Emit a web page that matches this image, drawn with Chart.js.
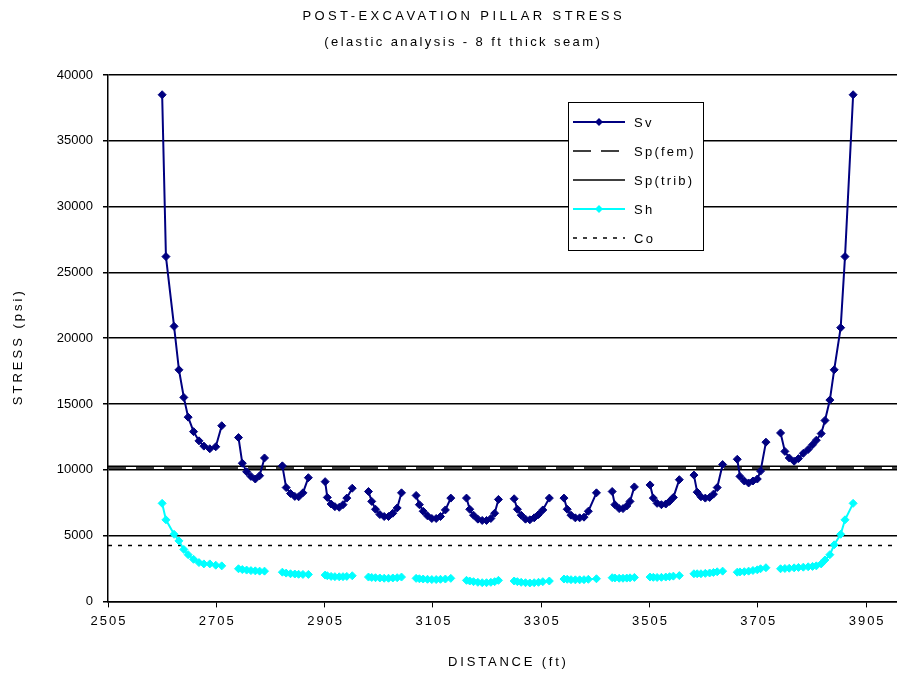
<!DOCTYPE html>
<html>
<head>
<meta charset="utf-8">
<script src="https://cdn.jsdelivr.net/npm/chart.js@4.4.1/dist/chart.umd.min.js"></script>
<style>
  html, body { margin: 0; padding: 0; background: #fff; overflow: hidden; }
  #wrap { width: 897px; height: 677px; }
</style>
</head>
<body>
<div id="wrap"><canvas id="chart"></canvas></div>
<script>
// tick labels and axis range
const xTicks = [2505, 2705, 2905, 3105, 3305, 3505, 3705, 3905];
const xMin = 2505;
const xMax = 3962;
const yMax = 40000;
const yStep = 5000;

// constant stress levels (psi)
const spFem = 10130;
const spTrib = 10270;
const co = 4250;

// distance (ft) of each calculation point, one list per pillar
const distance = [
  [2605, 2612, 2627, 2636, 2645, 2653, 2663, 2673, 2682, 2693, 2704, 2715],
  [2746, 2753, 2761, 2769, 2777, 2785, 2794],
  [2827, 2834, 2842, 2850, 2857, 2865, 2875],
  [2906, 2910, 2917, 2924, 2932, 2939, 2946, 2956],
  [2986, 2992, 2999, 3007, 3015, 3023, 3031, 3039, 3047],
  [3074, 3080, 3087, 3095, 3103, 3111, 3119, 3128, 3138],
  [3167, 3173, 3180, 3188, 3196, 3204, 3212, 3219, 3226],
  [3255, 3261, 3268, 3276, 3284, 3292, 3300, 3308, 3320],
  [3347, 3353, 3360, 3368, 3376, 3384, 3392, 3407],
  [3436, 3441, 3449, 3456, 3463, 3469, 3477],
  [3506, 3512, 3519, 3527, 3535, 3542, 3549, 3560],
  [3587, 3593, 3600, 3608, 3616, 3623, 3630, 3640],
  [3667, 3672, 3680, 3688, 3696, 3704, 3710, 3720],
  [3747, 3755, 3763, 3772, 3780, 3789, 3798, 3806, 3813, 3822, 3829, 3838, 3846, 3858, 3866, 3881]
];

// vertical stress Sv (psi)
const sv = [
  [38500, 26200, 20900, 17600, 15500, 14000, 12900, 12200, 11800, 11600, 11750, 13350],
  [12450, 10500, 9850, 9500, 9300, 9550, 10900],
  [10300, 8650, 8200, 7980, 7950, 8250, 9400],
  [9100, 7900, 7400, 7200, 7150, 7350, 7850, 8600],
  [8350, 7600, 7000, 6600, 6450, 6450, 6700, 7100, 8250],
  [8050, 7350, 6850, 6500, 6300, 6300, 6450, 6950, 7850],
  [7850, 7000, 6550, 6250, 6150, 6150, 6300, 6700, 7750],
  [7800, 7000, 6550, 6250, 6200, 6350, 6600, 6950, 7850],
  [7850, 7000, 6550, 6350, 6350, 6400, 6850, 8250],
  [8350, 7350, 7050, 7050, 7250, 7600, 8700],
  [8850, 7850, 7450, 7350, 7400, 7600, 7900, 9250],
  [9600, 8300, 7950, 7850, 7900, 8150, 8650, 10400],
  [10800, 9500, 9150, 9000, 9150, 9300, 9900, 12100],
  [12800, 11400, 10900, 10650, 10850, 11250, 11550, 11900, 12250, 12750, 13750, 15300, 17600, 20800, 26200, 38500]
];

// horizontal stress Sh (psi)
const sh = [
  [7450, 6200, 5100, 4600, 3950, 3550, 3200, 2950, 2850, 2850, 2750, 2700],
  [2480, 2420, 2380, 2340, 2320, 2300, 2300],
  [2220, 2150, 2100, 2080, 2060, 2050, 2050],
  [2000, 1950, 1900, 1880, 1870, 1880, 1900, 1950],
  [1850, 1820, 1800, 1780, 1760, 1760, 1780, 1800, 1850],
  [1750, 1720, 1700, 1680, 1660, 1660, 1680, 1700, 1750],
  [1600, 1550, 1500, 1450, 1420, 1420, 1450, 1500, 1600],
  [1550, 1500, 1450, 1420, 1400, 1420, 1450, 1500, 1550],
  [1700, 1680, 1650, 1640, 1640, 1650, 1680, 1720],
  [1800, 1780, 1760, 1760, 1770, 1790, 1820],
  [1850, 1830, 1820, 1830, 1850, 1880, 1920, 1960],
  [2100, 2100, 2100, 2130, 2160, 2200, 2250, 2300],
  [2220, 2240, 2260, 2300, 2350, 2400, 2480, 2560],
  [2480, 2500, 2520, 2550, 2580, 2600, 2630, 2660, 2700, 2850, 3150, 3550, 4300, 5100, 6200, 7450]
];

const FONT = "'Liberation Sans', Arial, sans-serif";
const NAVY = '#000080';
const CYAN = '#00FFFF';

// flatten pillar lists, with a null point around each pillar so the line breaks
function toPoints(values) {
  const pts = [{ x: distance[0][0] - 1, y: null }];
  distance.forEach((grp, g) => {
    grp.forEach((d, i) => pts.push({ x: d, y: values[g][i] }));
    pts.push({ x: grp[grp.length - 1] + 1, y: null });
  });
  return pts;
}

function flat(level) {
  return [{ x: xMin, y: level }, { x: xMax, y: level }];
}

// gap points get no marker (keeps Chart.js from reserving marker room at the edges)
const markerSize = (r) => (c) => (c.raw && c.raw.y === null ? 0 : r);

function spacedText(ctx, text, x, y, spacing) {
  if ('letterSpacing' in ctx) {
    ctx.letterSpacing = spacing + 'px';
    ctx.fillText(text, x + spacing / 2, y);
    ctx.letterSpacing = '0px';
  } else {
    ctx.fillText(text, x, y);
  }
}

// chart title, axis titles and x tick labels (wide letter spacing like the original)
const titlePlugin = {
  id: 'titles',
  afterDraw(chart) {
    const ctx = chart.ctx;
    const area = chart.chartArea;
    const xs = chart.scales.x;
    ctx.save();
    ctx.fillStyle = '#000';
    ctx.font = '13px ' + FONT;
    ctx.textAlign = 'center';
    ctx.textBaseline = 'middle';
    spacedText(ctx, 'POST-EXCAVATION PILLAR STRESS', 462, 16, 3.4);
    spacedText(ctx, '(elastic analysis - 8 ft thick seam)', 462, 42, 2.4);
    xTicks.forEach(v => spacedText(ctx, String(v), xs.getPixelForValue(v), area.bottom + 20, 2));
    spacedText(ctx, 'DISTANCE (ft)', 507, 662, 2.8);
    ctx.translate(18, (area.top + area.bottom) / 2 + 10);
    ctx.rotate(-Math.PI / 2);
    spacedText(ctx, 'STRESS (psi)', 0, 0, 3);
    ctx.restore();
  }
};

// boxed legend inside the plot
const legendBox = {
  id: 'legendBox',
  afterDatasetsDraw(chart) {
    const ctx = chart.ctx;
    const bx = 568, by = 102, bw = 135, bh = 148;
    ctx.save();
    ctx.fillStyle = '#fff';
    ctx.fillRect(bx, by, bw, bh);
    ctx.strokeStyle = '#000';
    ctx.lineWidth = 1;
    ctx.strokeRect(bx + 0.5, by + 0.5, bw, bh);
    ctx.font = '13px ' + FONT;
    ctx.textBaseline = 'middle';
    chart.data.datasets.forEach((ds, i) => {
      const y = by + 20 + i * 29;
      ctx.strokeStyle = ds.borderColor;
      ctx.lineWidth = ds.borderWidth;
      ctx.setLineDash(ds.borderDash || []);
      ctx.beginPath();
      ctx.moveTo(bx + 5, y);
      ctx.lineTo(bx + 57, y);
      ctx.stroke();
      ctx.setLineDash([]);
      if (ds.legendMarker) {
        const r = 4;
        ctx.fillStyle = ds.pointBackgroundColor;
        ctx.beginPath();
        ctx.moveTo(bx + 31, y - r);
        ctx.lineTo(bx + 31 + r, y);
        ctx.lineTo(bx + 31, y + r);
        ctx.lineTo(bx + 31 - r, y);
        ctx.closePath();
        ctx.fill();
      }
      ctx.fillStyle = '#000';
      spacedText(ctx, ds.label, bx + 65, y + 1, 2.2);
    });
    ctx.restore();
  }
};

new Chart(document.getElementById('chart'), {
  type: 'line',
  data: {
    datasets: [
      {
        label: 'Sv', data: toPoints(sv), legendMarker: true,
        borderColor: NAVY, borderWidth: 2,
        pointStyle: 'rectRot', pointRadius: markerSize(4),
        pointBackgroundColor: NAVY, pointBorderColor: NAVY, pointBorderWidth: markerSize(1),
        spanGaps: false
      },
      {
        label: 'Sp(fem)', data: flat(spFem),
        borderColor: '#000', borderWidth: 1.5, borderDash: [18, 10], pointRadius: 0
      },
      {
        label: 'Sp(trib)', data: flat(spTrib),
        borderColor: '#000', borderWidth: 1.5, pointRadius: 0
      },
      {
        label: 'Sh', data: toPoints(sh), legendMarker: true,
        borderColor: CYAN, borderWidth: 2,
        pointStyle: 'rectRot', pointRadius: markerSize(4),
        pointBackgroundColor: CYAN, pointBorderColor: CYAN, pointBorderWidth: markerSize(1),
        spanGaps: false
      },
      {
        label: 'Co', data: flat(co),
        borderColor: '#000', borderWidth: 1.5, borderDash: [4, 6], pointRadius: 0
      }
    ]
  },
  options: {
    responsive: true,
    maintainAspectRatio: false,
    animation: false,
    devicePixelRatio: 1,
    layout: { padding: { top: 75, right: 0, bottom: 42, left: 0 } },
    plugins: {
      legend: { display: false },
      title: { display: false },
      tooltip: { enabled: false }
    },
    scales: {
      x: {
        type: 'linear',
        min: xMin,
        max: xMax,
        afterBuildTicks: (scale) => { scale.ticks = xTicks.map(v => ({ value: v })); },
        ticks: {
          color: 'rgba(0,0,0,0)', font: { family: FONT, size: 13 }, padding: 6,
          maxRotation: 0, autoSkip: false, callback: (v) => String(v)
        },
        grid: { drawOnChartArea: false, color: '#000', tickLength: 6, lineWidth: 1 },
        border: { color: '#000', width: 1.5 }
      },
      y: {
        min: 0,
        max: yMax,
        ticks: {
          stepSize: yStep, color: '#000', font: { family: FONT, size: 13 }, padding: 10,
          callback: (v) => String(v)
        },
        grid: { color: '#000', lineWidth: 1.5, tickLength: 5 },
        border: { color: '#000', width: 1.5 },
        afterFit: (scale) => { scale.width = 108; }
      }
    }
  },
  plugins: [titlePlugin, legendBox]
});
</script>
</body>
</html>
